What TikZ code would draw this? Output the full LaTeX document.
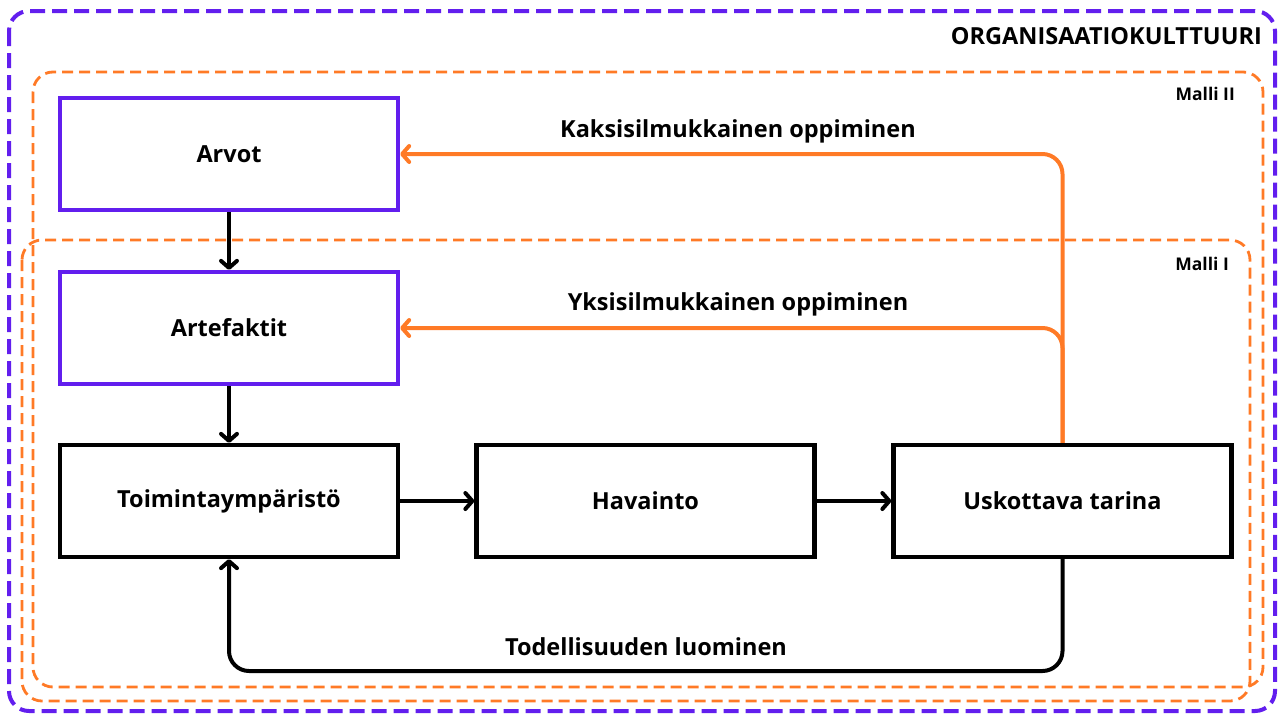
\documentclass[tikz,border=0pt]{standalone}
\usepackage{fontspec}
\setmainfont{Open Sans}
\usetikzlibrary{arrows.meta}
\definecolor{purp}{RGB}{98,30,238}
\definecolor{orng}{RGB}{255,122,38}
\tikzset{
  box/.style={draw=#1, line width=4.3pt, minimum width=338pt, minimum height=112pt, inner sep=0pt, font=\fontsize{23.5}{28}\selectfont\bfseries},
  conn/.style={line width=4pt, draw=#1, rounded corners=20pt, -{Straight Barb[length=7pt,width=16pt,round,line width=4pt]}},
  lbl/.style={font=\fontsize{23.5}{28}\selectfont\bfseries, inner sep=0pt},
  small/.style={font=\fontsize{17.5}{21}\selectfont\bfseries, inner sep=0pt},
  frame/.style={dashed, rounded corners=20pt}
}
\begin{document}
\begin{tikzpicture}[x=1pt,y=-1pt]
\useasboundingbox (0,0) rectangle (1279,713);
% frames
\draw[frame, purp, line width=4pt, dash pattern=on 15pt off 7pt] (9,11) rectangle (1275,711);
\draw[frame, orng, line width=2.8pt, dash pattern=on 11pt off 6pt] (33,72) rectangle (1263,687);
\draw[frame, orng, line width=2.8pt, dash pattern=on 11pt off 6pt] (22,240) rectangle (1250,701);
\node[lbl, anchor=east] (org) at (1262,36) {ORGANISAATIOKULTTUURI};
\node[small, anchor=east] (m2) at (1235,94) {Malli II};
\node[small, anchor=east] (m1) at (1229,264) {Malli I};
% boxes
\node[box=purp] (arvot) at (229,154) {Arvot};
\node[box=purp] (arte) at (229,328) {Artefaktit};
\node[box=black] (toim) at (229,501) {Toimintaympäristö};
\node[box=black] (hav) at (645.5,501) {Havainto};
\node[box=black] (usk) at (1062.5,501) {Uskottava tarina};
% connectors
\draw[conn=black] (arvot) -- (arte);
\draw[conn=black] (arte) -- (toim);
\draw[conn=black] (toim) -- (hav);
\draw[conn=black] (hav) -- (usk);
\coordinate (bot) at (0,671);
\draw[conn=black] (usk.south) -- (usk.south |- bot) -- (toim.south |- bot) -- (toim.south);
\draw[conn=orng] (usk.north) |- (arvot.east);
\draw[conn=orng] (usk.north) |- (arte.east);
\node[lbl] (tl) at (646,647) {Todellisuuden luominen};
\node[lbl] (ks) at (738,131) {Kaksisilmukkainen oppiminen};
\node[lbl] (ys) at (738,304) {Yksisilmukkainen oppiminen};
\end{tikzpicture}
\end{document}
